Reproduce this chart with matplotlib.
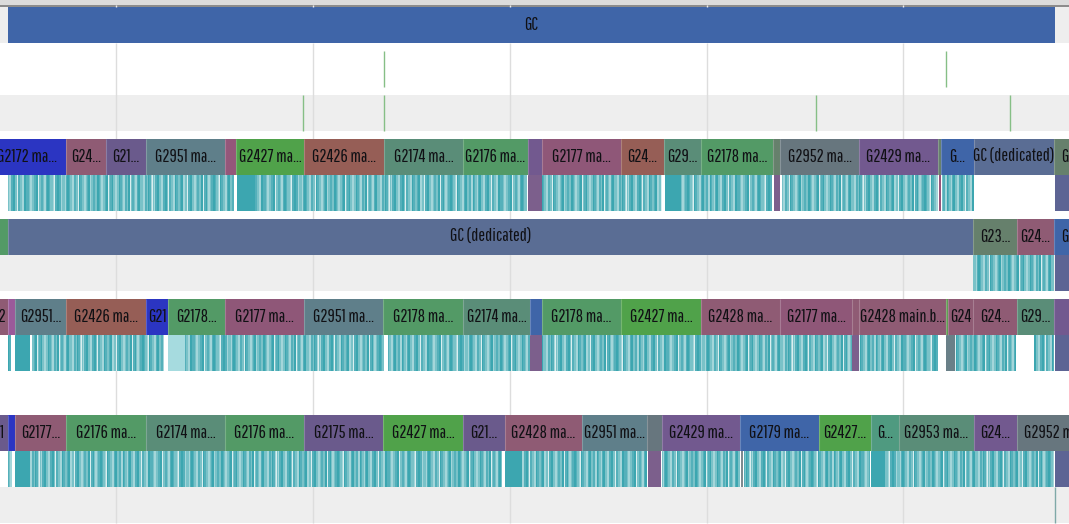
import matplotlib
matplotlib.use("Agg")
import matplotlib.pyplot as plt
from matplotlib.colors import LinearSegmentedColormap

plt.rcParams['font.family'] = ['Pathway Gothic One', 'Liberation Sans', 'DejaVu Sans']

BLUE = '#2b35c2'; ROSE = '#8f5b74'; PLUM = '#6a5a8c'; SLATE = '#5f7f8a'; PINK = '#94577a'
GREEN = '#50a24a'; BRICK = '#965e56'; TEAL = '#5a8d78'; LEAF = '#539a66'; VIOLET = '#72598f'
MAG = '#8f5778'; SAGE = '#66806c'; STEEL = '#67767e'; COBALT = '#3f65a8'; DUSK = '#5a6d94'
JADE = '#4f9a80'; ORCHID = '#9a5a9a'; FERN = '#5f9a50'

# Thread slices: edges are times (n+1 values for n slices), then labels and colours
row1_edges = [8, 1055]
row1_labels = ['GC']
row1_colors = [COBALT]

row4_edges = [-12, 66, 106, 146, 225, 236, 304, 384, 463, 528, 542, 621, 664, 701, 773, 780, 859, 938, 941, 974, 1054, 1076]
row4_labels = ['G2172 ma...', 'G24...', 'G21...', 'G2951 ma...', '', 'G2427 ma...', 'G2426 ma...', 'G2174 ma...',
               'G2176 ma...', '', 'G2177 ma...', 'G24...', 'G29...', 'G2178 ma...', '', 'G2952 ma...', 'G2429 ma...',
               '', 'G...', 'GC (dedicated)', 'G']
row4_colors = [BLUE, ROSE, PLUM, SLATE, PINK, GREEN, BRICK, TEAL, LEAF, VIOLET, MAG, BRICK, TEAL, LEAF, SAGE, STEEL,
               VIOLET, SAGE, COBALT, DUSK, SAGE]

row5_edges = [0, 8, 973, 1017, 1054, 1076]
row5_labels = ['', 'GC (dedicated)', 'G23...', 'G24...', 'G']
row5_colors = [LEAF, DUSK, SAGE, ROSE, COBALT]

row6_edges = [-60, 8, 15, 66, 146, 168, 225, 304, 383, 463, 530, 542, 621, 701, 780, 852, 859, 946, 948, 973, 1017, 1054, 1069]
row6_labels = ['G2428 ma2', '', 'G2951...', 'G2426 ma...', 'G21', 'G2178...', 'G2177 ma...', 'G2951 ma...', 'G2178 ma...',
               'G2174 ma...', '', 'G2178 ma...', 'G2427 ma...', 'G2428 ma...', 'G2177 ma...', '', 'G2428 main.b...', '',
               'G24', 'G24...', 'G29...', '']
row6_colors = [ROSE, ORCHID, SLATE, BRICK, BLUE, LEAF, MAG, SLATE, LEAF, TEAL, COBALT, LEAF, GREEN, ROSE, MAG, ROSE,
               ROSE, FERN, ROSE, ROSE, TEAL, VIOLET]

row7_edges = [-4, 8, 15, 66, 146, 225, 304, 383, 463, 505, 582, 647, 662, 740, 819, 871, 899, 974, 1017, 1096]
row7_labels = ['1', '', 'G2177...', 'G2176 ma...', 'G2174 ma...', 'G2176 ma...', 'G2175 ma...', 'G2427 ma...', 'G21...',
               'G2428 ma...', 'G2951 ma...', '', 'G2429 ma...', 'G2179 ma...', 'G2427...', 'G...', 'G2953 ma...', 'G24...',
               'G2952 ma...']
row7_colors = [PLUM, BLUE, ROSE, LEAF, TEAL, LEAF, PLUM, GREEN, PLUM, ROSE, SLATE, STEEL, VIOLET, COBALT, GREEN, JADE,
               TEAL, VIOLET, STEEL]

# Event ticks on the two upper tracks
row2_events = [384, 946]
row3_events = [303, 384, 816, 1010]

# Activity strips: striped spans, solid spans (start, end, colour)
row4_striped = [(8, 234), (255, 527), (542, 662), (680, 772), (782, 938), (942, 974)]
row4_solid = [(237, 255, '#3ca6b0'), (528, 542, '#7c5f8c'), (665, 680, '#3ca6b0'), (774, 780, '#7c5f8c'),
              (939, 941, '#96557a'), (1055, 1069, '#5d6494')]
row5_striped = [(973, 1054)]
row5_solid = [(1055, 1069, '#5d6494')]
row6_striped = [(8, 11), (32, 164), (185, 384), (388, 530), (542, 852), (859, 938), (955, 1016), (1034, 1054)]
row6_solid = [(15, 30, '#3ca6b0'), (168, 185, '#a6dbdf'), (530, 542, '#7c5f8c'), (852, 859, '#7c5f8c'),
              (946, 955, '#6a8088'), (1055, 1069, '#5d6494')]
row7_striped = [(8, 12), (30, 502), (522, 647), (662, 740), (744, 870), (885, 1054)]
row7_solid = [(15, 30, '#3ca6b0'), (505, 522, '#3ca6b0'), (648, 661, '#7c5f8c'), (741, 743, '#7d8a90'),
              (871, 885, '#3ca6b0'), (1055, 1069, '#5d6494')]

# Hand-read stripe texture (0 = full teal ... 4 = palest)
texture = ('1223100223311002241122330011123322110042211233100122234110011322231001223311224'
           '0112233210032211220012332210042110223322011233112004211233100222331120113423110'
           '0223311002411223301122100332241100223321122004110233211001223401122331002211330')

fig = plt.figure(figsize=(10.69, 5.24), dpi=100, facecolor='white')
ax = fig.add_axes([0, 0, 1, 1])
ax.axis('off')

TEAL_RAMP = LinearSegmentedColormap.from_list('ramp', ['#3ca6b0', '#55b0ba', '#7ac2c8', '#a4d6da', '#dcf0f1'])


def band(y0, y1, color, x0=0, x1=1069, z=1):
    ax.broken_barh([(x0, x1 - x0)], (y0, y1 - y0), facecolors=color, linewidth=0, zorder=z)


# Chrome and track backgrounds
band(0, 5, '#dcdcdc', z=5)
band(5, 7, '#8c8c8c', z=5)
band(7, 43, '#eeeeee')
band(95, 131, '#eeeeee')
band(255, 291, '#eeeeee')
band(487, 523, '#eeeeee')

# Grid
grid_x = [116, 313, 510, 707, 903]
ax.vlines(grid_x, 43, 523, color='#dddddd', lw=1, zorder=2)
ax.vlines(grid_x, 5, 7, color='#eeeeee', lw=1, zorder=6)


def slices(edges, labels, colors, y0, y1):
    for i, label in enumerate(labels):
        a, b = edges[i], edges[i + 1]
        band(y0, y1, colors[i], a, b, z=3)
        if i:
            ax.vlines(a, y0, y1, color='#ffffff', alpha=0.22, lw=0.8, zorder=4)
        if label:
            t = ax.text((a + b) / 2, (y0 + y1) / 2 - 0.5, label, ha='center', va='center',
                        fontsize=13, color='#101014', zorder=6)
            t.set_clip_on(True)


def strip(striped, solid, y0, y1, offset):
    for a, b in striped:
        tones = [int(texture[(x + offset) % len(texture)]) for x in range(a, b)]
        ax.imshow([tones], extent=(a, b, y1, y0), aspect='auto', cmap=TEAL_RAMP, vmin=0, vmax=4,
                  interpolation='bilinear', zorder=3)
    for a, b, color in solid:
        band(y0, y1, color, a, b, z=3)


slices(row1_edges, row1_labels, row1_colors, 7, 43)
slices(row4_edges, row4_labels, row4_colors, 139, 175)
slices(row5_edges, row5_labels, row5_colors, 219, 255)
slices(row6_edges, row6_labels, row6_colors, 299, 335)
slices(row7_edges, row7_labels, row7_colors, 415, 451)

strip(row4_striped, row4_solid, 175, 211, 0)
strip(row5_striped, row5_solid, 255, 291, 37)
strip(row6_striped, row6_solid, 335, 371, 71)
strip(row7_striped, row7_solid, 451, 487, 113)

ax.vlines(row2_events, 51, 87, color='#86bf86', lw=1, zorder=4)
ax.vlines(row3_events, 95, 131, color='#86bf86', lw=1, zorder=4)
ax.vlines([1055], 487, 523, color='#7fa9a8', lw=1, zorder=4)

ax.set_xlim(0, 1069)
ax.set_ylim(524, 0)

fig.savefig('out.png', dpi=100, facecolor='white')
